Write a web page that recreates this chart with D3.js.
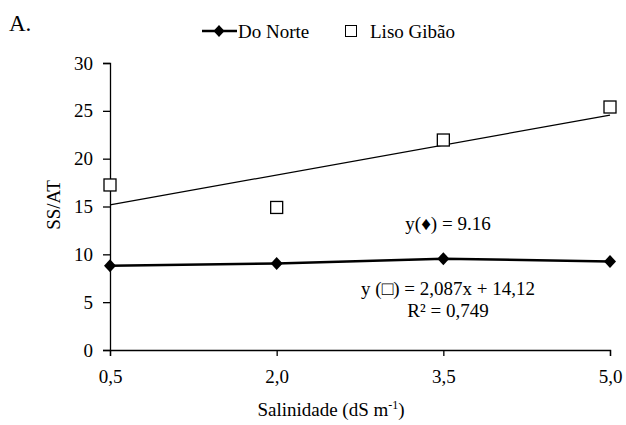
<!DOCTYPE html>
<html><head><meta charset="utf-8">
<script src="https://cdn.jsdelivr.net/npm/d3@7/dist/d3.min.js"></script>
<style>body{margin:0;background:#fff}svg{display:block}svg text{font-family:"Liberation Serif","Times New Roman",serif}</style>
</head><body><svg id="c" width="626" height="425"></svg>
<script>
const xValues = [0.5, 2.0, 3.5, 5.0];
const xTickLabels = ["0,5", "2,0", "3,5", "5,0"];
const yTicks = [0, 5, 10, 15, 20, 25, 30];
const doNorte = [8.8, 9.05, 9.55, 9.25];
const lisoGibao = [17.25, 14.9, 21.95, 25.4];
const trendSlope = 2.087, trendIntercept = 14.12;
const seriesNames = ["Do Norte", "Liso Gibão"];

const FF = '"Liberation Serif","Times New Roman",serif';
const FS = 19;
const svg = d3.select("#c");
const x = d3.scaleLinear().domain([0.5, 5.0]).range([110, 610]);
const y = d3.scaleLinear().domain([0, 30]).range([350, 63]);

// axes
const xAxis = d3.axisBottom(x).tickValues(xValues).tickFormat((d,i)=>xTickLabels[i]).tickSizeOuter(0).tickSize(6).tickPadding(14);
const gx = svg.append("g").attr("transform",`translate(0,${y(0)})`).call(xAxis).attr("font-family",FF).attr("font-size",FS);
gx.select(".domain").attr("stroke","#000").attr("stroke-width",1.3);
gx.selectAll(".tick line").attr("stroke-width",1.3);
gx.selectAll("text").attr("fill","#000");
const yAxis = d3.axisLeft(y).tickValues(yTicks).tickSizeOuter(0).tickSize(7).tickPadding(10);
const gy = svg.append("g").attr("transform",`translate(${x(0.5)},0)`).call(yAxis).attr("font-family",FF).attr("font-size",FS);
gy.select(".domain").attr("stroke","#000").attr("stroke-width",1.3);
gy.selectAll(".tick line").attr("stroke-width",1.3);
gy.selectAll("text").attr("fill","#000");

// trend line
svg.append("line").attr("x1",x(0.5)).attr("y1",y(trendSlope*0.5+trendIntercept))
  .attr("x2",x(5.0)).attr("y2",y(trendSlope*5.0+trendIntercept)).attr("stroke","#000").attr("stroke-width",1.3);

// Liso squares
svg.selectAll("rect.liso").data(xValues).join("rect").attr("class","liso")
  .attr("x",(d)=>x(d)-6).attr("y",(d,i)=>y(lisoGibao[i])-6).attr("width",12).attr("height",12)
  .attr("fill","#fff").attr("stroke","#000").attr("stroke-width",1.3);

// Do Norte line
const line = d3.line().x((d)=>x(d[0])).y((d)=>y(d[1]));
svg.append("path").datum(xValues.map((v,i)=>[v,doNorte[i]])).attr("d",line)
  .attr("fill","none").attr("stroke","#000").attr("stroke-width",2.5);
const diamond = "M0,-6.5L6,0L0,6.5L-6,0Z";
svg.selectAll("path.dn").data(xValues).join("path").attr("class","dn")
  .attr("d",diamond).attr("transform",(d,i)=>`translate(${x(d)},${y(doNorte[i])})`).attr("fill","#000");

// annotations
const t = (tx,ty,s,anchor="middle",size=FS)=>svg.append("text").attr("x",tx).attr("y",ty).attr("text-anchor",anchor)
  .attr("font-family",FF).attr("font-size",size).attr("fill","#000").text(s);
t(448,230,"y(♦) = 9.16");
t(448,295,"y (□) = 2,087x + 14,12");
t(448,317,"R² = 0,749");
t(9,31,"A.","start",23);

// legend
svg.append("line").attr("x1",202).attr("x2",237).attr("y1",31).attr("y2",31).attr("stroke","#000").attr("stroke-width",2.5);
svg.append("path").attr("d","M0,-6L5.5,0L0,6L-5.5,0Z").attr("transform","translate(219,31)").attr("fill","#000");
t(238,38,seriesNames[0],"start");
svg.append("rect").attr("x",345.5).attr("y",25.5).attr("width",11).attr("height",11).attr("fill","#fff").attr("stroke","#000").attr("stroke-width",1);
t(370,38,seriesNames[1],"start");

// axis titles
svg.append("text").attr("x",331).attr("y",416).attr("text-anchor","middle").attr("font-family",FF).attr("font-size",FS).attr("fill","#000")
  .html('Salinidade (dS m<tspan dy="-7" font-size="12">-1</tspan><tspan dy="7">)</tspan>');
svg.append("text").attr("transform","translate(60,205) rotate(-90)").attr("text-anchor","middle").attr("font-family",FF).attr("font-size",FS).attr("fill","#000").text("SS/AT");
</script></body></html>
